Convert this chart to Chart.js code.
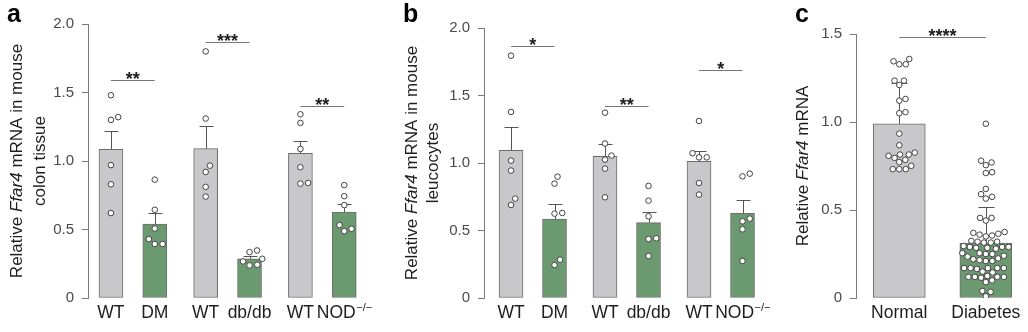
<!DOCTYPE html>
<html>
<head>
<meta charset="utf-8">
<script src="https://cdn.jsdelivr.net/npm/chart.js@4.4.1/dist/chart.umd.min.js"></script>
<style>
  html, body { margin: 0; padding: 0; background: #fff; }
  body { width: 1028px; height: 332px; position: relative; overflow: hidden; }
  canvas { position: absolute; top: 0; }
</style>
</head>
<body>
<canvas id="chartA" width="376" height="332" style="left:0"></canvas>
<canvas id="chartB" width="410" height="332" style="left:376px"></canvas>
<canvas id="chartC" width="268" height="332" style="left:760px"></canvas>
<script>
// Ffar4 expression: mouse colon, mouse leucocytes, human samples

// --- a: mouse colon tissue ---
const mouseLabels = ['WT', 'DM', 'WT', 'db/db', 'WT', 'NOD^−/−'];
const colonMean = [1.085, 0.54, 1.09, 0.286, 1.056, 0.628];
const colonErrTop = [1.22, 0.617, 1.256, 0.305, 1.144, 0.685];
const colonPoints = [
    [1.48, 1.32, 1.30, 0.97, 0.83, 0.62],
    [0.864, 0.644, 0.507, 0.43, 0.394, 0.394],
    [1.80, 1.31, 0.966, 0.92, 0.811, 0.74],
    [0.347, 0.335, 0.286, 0.267, 0.243, 0.238],
    [1.341, 1.278, 1.088, 0.955, 0.835, 0.84],
    [0.824, 0.743, 0.678, 0.532, 0.488, 0.505]
];
const colonSigPairs = [[0, 1], [2, 3], [4, 5]];
const colonSigY = [1.59, 1.866, 1.404];
const colonSigText = ['**', '***', '**'];

// --- b: mouse leucocytes ---
const leukoMean = [1.094, 0.585, 1.05, 0.558, 1.012, 0.627];
const leukoErrTop = [1.267, 0.699, 1.139, 0.64, 1.087, 0.724];
const leukoPoints = [
    [1.795, 1.378, 1.018, 0.944, 0.736, 0.689],
    [0.899, 0.847, 0.63, 0.625, 0.284, 0.244],
    [1.373, 1.144, 1.055, 1.025, 0.958, 0.746],
    [0.83, 0.721, 0.605, 0.442, 0.437, 0.311],
    [1.311, 1.072, 1.042, 1.042, 0.852, 0.766],
    [0.921, 0.901, 0.588, 0.568, 0.509, 0.274]
];
const leukoSigPairs = [[0, 1], [2, 3], [4, 5]];
const leukoSigY = [1.864, 1.42, 1.686];
const leukoSigText = ['*', '**', '*'];

// --- c: human samples ---
const humanLabels = ['Normal', 'Diabetes'];
const humanMean = [0.99, 0.312];
const humanErrTop = [1.22, 0.518];
const normalPoints = [
    1.358, 1.328, 1.328, 1.345, 1.235, 1.235, 1.21, 1.131, 1.121, 1.05, 1.056, 0.934,
    0.868, 0.815, 0.808, 0.826, 0.815, 0.785, 0.796, 0.772, 0.751, 0.732, 0.732, 0.732
];
const diabetesPoints = [
    0.99, 0.78, 0.77, 0.755, 0.715, 0.71, 0.62, 0.59, 0.575, 0.565, 0.455, 0.44, 0.455,
    0.375, 0.365, 0.355, 0.35, 0.36, 0.37,
    0.32, 0.315, 0.32, 0.315, 0.325,
    0.29, 0.285, 0.29, 0.28, 0.29, 0.285, 0.295,
    0.255, 0.25, 0.24, 0.235, 0.25, 0.255,
    0.21, 0.215, 0.22, 0.225, 0.21,
    0.17, 0.17, 0.17, 0.165, 0.17, 0.17,
    0.15, 0.145,
    0.12, 0.12, 0.115, 0.10, 0.12, 0.12, 0.125,
    0.09, 0.04, 0.035, 0.01
];
const humanSigPairs = [[0, 1]];
const humanSigY = [1.481];
const humanSigText = ['****'];

const FONT = "'Liberation Sans', Arial, Helvetica, sans-serif";
Chart.defaults.font.family = FONT;
Chart.defaults.animation = false;

const GRAY = '#c8c8ca';
const GREEN = '#6b9a70';
const EDGE = '#6c6c6c';
const AXIS = '#7a7a7a';
const INK = '#1e1e1e';

// positions along x: pairs of bars, pairs spaced one unit apart
const PAIR = 0.463;
const mousePos = [0, 1, 2].flatMap(g => [g, g + PAIR]);
const humanPos = [0, 1];

// "_x_" marks italic parts of a label
function richParts(str) {
    return str.split('_').map((t, i) => ({ t, it: i % 2 === 1 })).filter(p => p.t);
}
function drawRich(ctx, str, x, y, size) {
    const parts = richParts(str);
    let w = 0;
    parts.forEach(p => {
        ctx.font = (p.it ? 'italic ' : '') + size + 'px ' + FONT;
        p.w = ctx.measureText(p.t).width;
        w += p.w;
    });
    let cx = x - w / 2;
    ctx.textAlign = 'left';
    parts.forEach(p => {
        ctx.font = (p.it ? 'italic ' : '') + size + 'px ' + FONT;
        ctx.fillText(p.t, cx, y);
        cx += p.w;
    });
}

// label with optional superscript after '^'
function drawSupLabel(ctx, str, x, y) {
    const [main, sup] = str.split('^');
    ctx.font = '17.5px ' + FONT;
    const wm = ctx.measureText(main).width;
    let ws = 0;
    if (sup) {
        ctx.font = '11px ' + FONT;
        ws = ctx.measureText(sup).width;
    }
    const x0 = x - (wm + ws) / 2;
    ctx.textAlign = 'left';
    ctx.font = '17.5px ' + FONT;
    ctx.fillText(main, x0, y);
    if (sup) {
        ctx.font = '11px ' + FONT;
        ctx.fillText(sup, x0 + wm + 0.5, y - 7);
    }
}

// simple beeswarm: stack points upward, push sideways to avoid overlap
function swarm(groups, positions, xs, ys, minDist) {
    const out = [];
    groups.forEach((vals, i) => {
        const cx = xs.getPixelForValue(positions[i]);
        const placed = [];
        const order = vals.map((v, k) => k).sort((a, b) => vals[a] - vals[b]);
        order.forEach(k => {
            const py = ys.getPixelForValue(vals[k]);
            let dx = 0;
            for (let n = 0; n < 600; n++) {
                const cand = (n % 2 === 1 ? 1 : -1) * Math.ceil(n / 2) * 0.25;
                const hit = placed.some(q => (cand - q.dx) ** 2 + (py - q.py) ** 2 < minDist * minDist);
                if (!hit) { dx = cand; break; }
            }
            placed.push({ dx, py });
            out.push({ x: xs.getValueForPixel(cx + dx), y: vals[k] });
        });
    });
    return out;
}

function makePanel(cfg) {
    const canvas = document.getElementById(cfg.id);
    const W = canvas.width, H = canvas.height;
    const area = cfg.area;

    const decor = {
        id: 'decor',
        afterDatasetDraw(chart, args) {
            if (args.meta.type !== 'bar') return;
            const ctx = chart.ctx, xs = chart.scales.x, ys = chart.scales.y;
            ctx.save();
            ctx.strokeStyle = '#555';
            ctx.lineWidth = 1;
            cfg.means.forEach((m, i) => {
                const x = Math.round(xs.getPixelForValue(cfg.positions[i])) + 0.5;
                const y0 = ys.getPixelForValue(m);
                const y1 = Math.round(ys.getPixelForValue(cfg.errTop[i])) + 0.5;
                ctx.beginPath();
                ctx.moveTo(x, y0);
                ctx.lineTo(x, y1);
                ctx.moveTo(x - cfg.cap, y1);
                ctx.lineTo(x + cfg.cap, y1);
                ctx.stroke();
            });
            ctx.restore();
        },
        afterDraw(chart) {
            const ctx = chart.ctx, xs = chart.scales.x, ys = chart.scales.y;
            const ca = chart.chartArea;
            ctx.save();
            // significance bars
            cfg.sigPairs.forEach((p, i) => {
                const xa = xs.getPixelForValue(cfg.positions[p[0]]);
                const xb = xs.getPixelForValue(cfg.positions[p[1]]);
                const y = Math.round(ys.getPixelForValue(cfg.sigY[i])) + 0.5;
                ctx.strokeStyle = '#777';
                ctx.lineWidth = 1;
                ctx.beginPath();
                ctx.moveTo(xa, y);
                ctx.lineTo(xb, y);
                ctx.stroke();
                ctx.fillStyle = INK;
                ctx.font = 'bold 18px ' + FONT;
                ctx.textAlign = 'center';
                ctx.textBaseline = 'alphabetic';
                ctx.fillText(cfg.sigText[i], (xa + xb) / 2, y + 4);
            });
            // category labels
            ctx.fillStyle = INK;
            ctx.textBaseline = 'alphabetic';
            cfg.labels.forEach((lab, i) => {
                drawSupLabel(ctx, lab, xs.getPixelForValue(cfg.positions[i]), ca.bottom + 20);
            });
            // axis title, rotated
            const cy = (ca.top + ca.bottom) / 2;
            cfg.title.forEach((line, i) => {
                ctx.save();
                ctx.translate(ca.left - cfg.titleOffset[i], cy);
                ctx.rotate(-Math.PI / 2);
                ctx.fillStyle = INK;
                drawRich(ctx, line, 0, 0, 17);
                ctx.restore();
            });
            // panel letter
            ctx.fillStyle = '#000';
            ctx.font = 'bold 25px ' + FONT;
            ctx.textAlign = 'left';
            ctx.fillText(cfg.letter, cfg.letterX, 22);
            ctx.restore();
        }
    };

    const points = cfg.points.flatMap((vals, i) => vals.map(v => ({ x: cfg.positions[i], y: v })));

    const chart = new Chart(canvas, {
        type: 'bar',
        data: {
            datasets: [
                {
                    type: 'scatter',
                    order: 1,
                    data: points,
                    pointRadius: 2.8,
                    pointHoverRadius: 2.8,
                    pointBackgroundColor: '#ffffff',
                    pointBorderColor: '#424242',
                    pointBorderWidth: 1
                },
                {
                    type: 'bar',
                    order: 2,
                    data: cfg.means.map((m, i) => ({ x: cfg.positions[i], y: m })),
                    backgroundColor: cfg.fills,
                    borderColor: EDGE,
                    borderWidth: 1,
                    borderSkipped: false,
                    barThickness: cfg.barWidth
                }
            ]
        },
        options: {
            responsive: false,
            animation: false,
            events: [],
            layout: { padding: { left: 0, right: W - area.right, top: area.top, bottom: 0 } },
            plugins: { legend: { display: false }, tooltip: { enabled: false } },
            scales: {
                x: {
                    type: 'linear',
                    min: cfg.xMin,
                    max: cfg.xMax,
                    offset: false,
                    grid: { display: false },
                    border: { display: false },
                    ticks: { display: false },
                    afterFit: s => { s.height = H - area.bottom; }
                },
                y: {
                    min: 0,
                    max: cfg.yMax,
                    ticks: {
                        stepSize: 0.5,
                        color: '#4a4a4a',
                        font: { size: 15 },
                        padding: 8,
                        callback: v => v === 0 ? '0' : v.toFixed(1)
                    },
                    grid: { drawOnChartArea: false, drawTicks: true, tickLength: 6, color: AXIS },
                    border: { display: true, color: AXIS, width: 1 },
                    afterFit: s => { s.width = area.left; }
                }
            }
        },
        plugins: [decor]
    });

    chart.data.datasets[0].data = swarm(cfg.points, cfg.positions, chart.scales.x, chart.scales.y, cfg.spread);
    chart.update('none');
    return chart;
}

const mouseFills = [GRAY, GREEN, GRAY, GREEN, GRAY, GREEN];

makePanel({
    id: 'chartA', letter: 'a', letterX: 7,
    area: { left: 88, right: 373, top: 24, bottom: 298 },
    xMin: -23 / 95, xMax: -23 / 95 + 285 / 95, yMax: 2,
    positions: mousePos, labels: mouseLabels, fills: mouseFills,
    means: colonMean, errTop: colonErrTop, points: colonPoints,
    sigPairs: colonSigPairs, sigY: colonSigY, sigText: colonSigText,
    title: ['Relative _Ffar4_ mRNA in mouse', 'colon tissue'], titleOffset: [66, 43],
    barWidth: 24, cap: 7, spread: 7.6
});

makePanel({
    id: 'chartB', letter: 'b', letterX: 27,
    area: { left: 108, right: 384, top: 28, bottom: 298 },
    xMin: -27 / 94, xMax: -27 / 94 + 276 / 94, yMax: 2,
    positions: mousePos, labels: mouseLabels, fills: mouseFills,
    means: leukoMean, errTop: leukoErrTop, points: leukoPoints,
    sigPairs: leukoSigPairs, sigY: leukoSigY, sigText: leukoSigText,
    title: ['Relative _Ffar4_ mRNA in mouse', 'leucocytes'], titleOffset: [67, 46],
    barWidth: 24, cap: 7, spread: 7.6
});

makePanel({
    id: 'chartC', letter: 'c', letterX: 35,
    area: { left: 96, right: 267, top: 34, bottom: 298 },
    xMin: -0.5, xMax: -0.5 + 171 / 88, yMax: 1.5,
    positions: humanPos, labels: humanLabels, fills: [GRAY, GREEN],
    means: humanMean, errTop: humanErrTop, points: [normalPoints, diabetesPoints],
    sigPairs: humanSigPairs, sigY: humanSigY, sigText: humanSigText,
    title: ['Relative _Ffar4_ mRNA'], titleOffset: [48],
    barWidth: 52, cap: 8, spread: 6.3
});
</script>
</body>
</html>
